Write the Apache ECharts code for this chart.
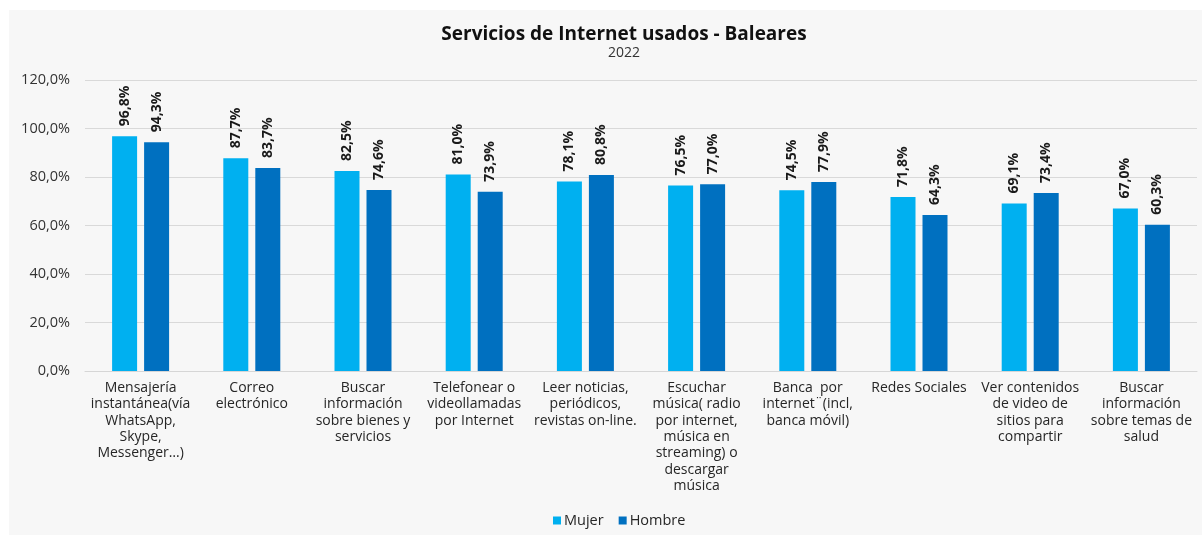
<!DOCTYPE html>
<html>
<head>
<meta charset="utf-8">
<script src="https://cdn.jsdelivr.net/npm/echarts@6/dist/echarts.min.js"></script>
<style>
  html, body { margin: 0; padding: 0; background: #ffffff; }
  #chart { width: 1202px; height: 535px; }
</style>
</head>
<body>
<div id="chart"></div>
<script>
// Services used on the Internet, Balearic Islands, 2022 (% of population by sex)
const categories = [
  'Mensajería\ninstantánea(vía\nWhatsApp,\nSkype,\nMessenger…)',
  'Correo\nelectrónico',
  'Buscar\ninformación\nsobre bienes y\nservicios',
  'Telefonear o\nvideollamadas\npor Internet',
  'Leer noticias,\nperiódicos,\nrevistas on-line.',
  'Escuchar\nmúsica( radio\npor internet,\nmúsica en\nstreaming) o\ndescargar\nmúsica',
  'Banca  por\ninternet¨(incl,\nbanca móvil)',
  'Redes Sociales',
  'Ver contenidos\nde video de\nsitios para\ncompartir',
  'Buscar\ninformación\nsobre temas de\nsalud'
];
const mujer = [96.8, 87.7, 82.5, 81.0, 78.1, 76.5, 74.5, 71.8, 69.1, 67.0];
const hombre = [94.3, 83.7, 74.6, 73.9, 80.8, 77.0, 77.9, 64.3, 73.4, 60.3];
const seriesNames = ['Mujer', 'Hombre'];
const titleText = 'Servicios de Internet usados - Baleares';
const subtitleText = '2022';

const FONT = '"Open Sans", Lato, sans-serif';
const pct = v => v.toFixed(1).replace('.', ',') + '%';

const chart = echarts.init(document.getElementById('chart'), null, { renderer: 'canvas' });

const barLabel = {
  show: true,
  position: 'top',
  rotate: 90,
  align: 'left',
  verticalAlign: 'middle',
  distance: 10,
  fontFamily: FONT,
  fontWeight: 'bold',
  fontSize: 14,
  color: '#1a1a1a',
  formatter: p => pct(p.value)
};

chart.setOption({
  backgroundColor: '#ffffff',
  animation: false,
  graphic: [{
    type: 'rect',
    z: -10,
    silent: true,
    shape: { x: 9, y: 10, width: 1193, height: 525 },
    style: { fill: '#f7f7f7' }
  }],
  title: {
    text: titleText,
    subtext: subtitleText,
    left: 619,
    textAlign: 'center',
    top: 20,
    itemGap: 2,
    textStyle: { fontFamily: FONT, fontWeight: 'bold', fontSize: 19, color: '#111111' },
    subtextStyle: { fontFamily: FONT, fontSize: 14, color: '#333333' }
  },
  legend: {
    data: seriesNames,
    left: 548,
    top: 508,
    itemWidth: 8,
    itemHeight: 8,
    itemGap: 15,
    icon: 'rect',
    textStyle: { fontFamily: FONT, fontSize: 14.5, color: '#262626', padding: [0, 0, 0, -2] }
  },
  grid: { left: 85, right: 5, top: 80, bottom: 164, containLabel: false },
  xAxis: {
    type: 'category',
    data: categories,
    axisLine: { show: true, lineStyle: { color: '#d6d6d6', width: 1 } },
    axisTick: { show: false },
    axisLabel: {
      interval: 0,
      margin: 9,
      fontFamily: FONT,
      fontSize: 14,
      lineHeight: 16.3,
      color: '#262626',
      align: 'center'
    }
  },
  yAxis: {
    type: 'value',
    min: 0,
    max: 120,
    interval: 20,
    axisLine: { show: false },
    axisTick: { show: false },
    splitLine: { lineStyle: { color: '#d9d9d9', width: 1 } },
    axisLabel: {
      margin: 15,
      fontFamily: FONT,
      fontSize: 14.5,
      color: '#333333',
      formatter: v => v.toFixed(1).replace('.', ',') + '%'
    }
  },
  series: [
    {
      name: seriesNames[0],
      type: 'bar',
      data: mujer,
      barWidth: 25,
      barGap: '28%',
      itemStyle: { color: '#00b0f0' },
      label: barLabel
    },
    {
      name: seriesNames[1],
      type: 'bar',
      data: hombre,
      barWidth: 25,
      itemStyle: { color: '#0070c0' },
      label: barLabel
    }
  ]
});
</script>
</body>
</html>
